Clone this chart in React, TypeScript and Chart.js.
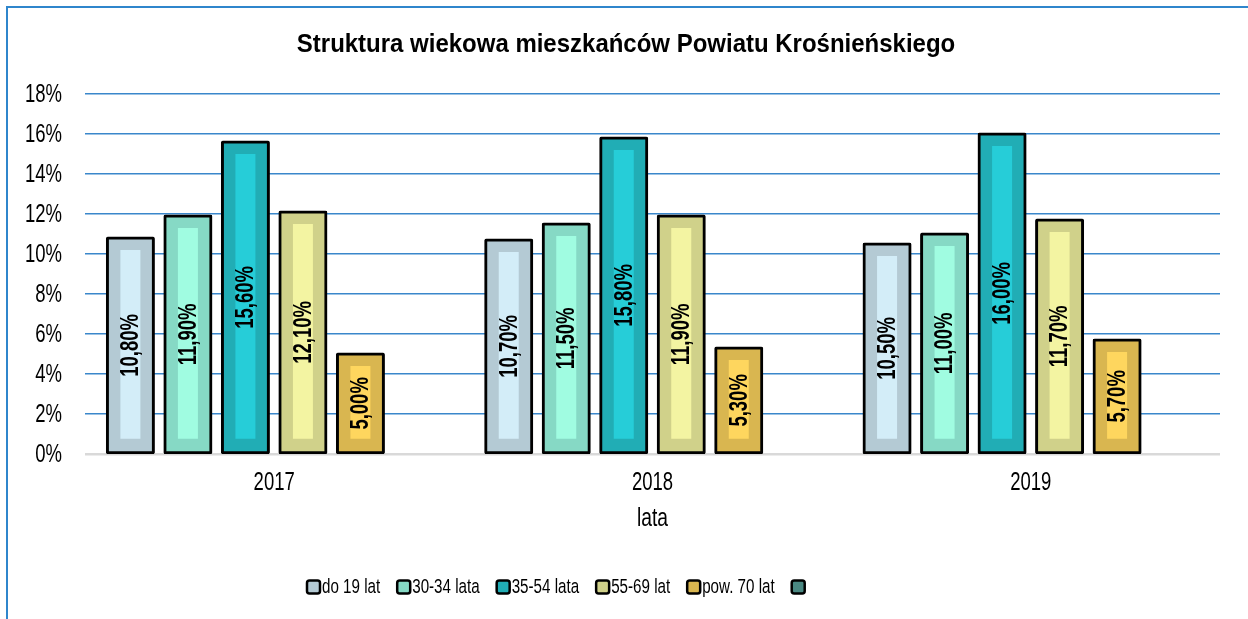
import React, { useEffect, useRef } from "react";
import { Chart, registerables } from "chart.js";

Chart.register(...registerables);

const categories = ["2017", "2018", "2019"];
const seriesLabels = ["do 19 lat", "30-34 lata", "35-54 lata", "55-69 lat", "pow. 70 lat", ""];
const do19 = [10.8, 10.7, 10.5];
const lata3034 = [11.9, 11.5, 11.0];
const lata3554 = [15.6, 15.8, 16.0];
const lat5569 = [12.1, 11.9, 11.7];
const pow70 = [5.0, 5.3, 5.7];
const empty = [null, null, null];
const outerColors = ["#B4CAD4", "#86D9C5", "#21ADB5", "#D0D18A", "#D9B650", "#4A8882"];
const innerColors = ["#D3EDF8", "#A0FCE1", "#26CDD8", "#F3F4A2", "#FED65E", "#5FA09A"];
const yTicks = [0, 2, 4, 6, 8, 10, 12, 14, 16, 18];
const chartTitle = "Struktura wiekowa mieszkańców Powiatu Krośnieńskiego";
const xAxisTitle = "lata";

const FONT = "'Liberation Sans', Arial, sans-serif";
const SX = 0.74;

function drawText(
  ctx: CanvasRenderingContext2D,
  text: string,
  x: number,
  y: number,
  font: string,
  sx: number,
  align: CanvasTextAlign,
  rot = 0
) {
  ctx.save();
  ctx.translate(x, y);
  if (rot) ctx.rotate(rot);
  ctx.scale(sx, 1);
  ctx.font = font;
  ctx.fillStyle = "#000000";
  ctx.textAlign = align;
  ctx.textBaseline = "middle";
  ctx.fillText(text, 0, 0);
  ctx.restore();
}

const decorPlugin = {
  id: "decor",
  beforeDraw(chart: any) {
    const ctx = chart.ctx;
    ctx.save();
    ctx.fillStyle = "#FFFFFF";
    ctx.fillRect(0, 0, chart.width, chart.height);
    ctx.strokeStyle = "#2F86CC";
    ctx.lineWidth = 2;
    ctx.beginPath();
    ctx.moveTo(7, chart.height);
    ctx.lineTo(7, 7);
    ctx.lineTo(chart.width, 7);
    ctx.stroke();
    ctx.restore();
    drawText(ctx, chartTitle, 626, 45, `bold 26.5px ${FONT}`, 0.905, "center");
  },
  afterDatasetsDraw(chart: any) {
    const ctx = chart.ctx;
    chart.data.datasets.forEach((ds: any, di: number) => {
      const meta = chart.getDatasetMeta(di);
      meta.data.forEach((bar: any, i: number) => {
        const v = ds.data[i];
        if (v === null || v === undefined) return;
        const { x, y, base, width } = bar.getProps(["x", "y", "base", "width"], true);
        const left = x - width / 2 + 13;
        const w = width - 26;
        const top = y + 12;
        const bottom = base - 14;
        if (bottom > top) {
          ctx.save();
          ctx.fillStyle = innerColors[di];
          ctx.fillRect(left, top, w, bottom - top);
          ctx.restore();
        }
        const txt = v.toFixed(2).replace(".", ",") + "%";
        drawText(ctx, txt, x + 1, (y + base) / 2, `bold 25px ${FONT}`, SX, "center", -Math.PI / 2);
      });
    });
  },
  afterDraw(chart: any) {
    const ctx = chart.ctx;
    const xs = chart.scales.x;
    const ys = chart.scales.y;
    yTicks.forEach((v) => {
      drawText(ctx, `${v}%`, 62, ys.getPixelForValue(v) + 1, `25px ${FONT}`, SX, "right");
    });
    categories.forEach((c, i) => {
      drawText(ctx, c, xs.getPixelForValue(i), 483, `25px ${FONT}`, SX, "center");
    });
    drawText(ctx, xAxisTitle, (chart.chartArea.left + chart.chartArea.right) / 2, 519, `25px ${FONT}`, 0.77, "center");
    ctx.save();
    let x = 307;
    const cy = 587;
    const lfont = `20.5px ${FONT}`;
    seriesLabels.forEach((lab, i) => {
      const s = 13;
      ctx.beginPath();
      const r = 2.5;
      const bx = x, by = cy - s / 2;
      ctx.moveTo(bx + r, by);
      ctx.arcTo(bx + s, by, bx + s, by + s, r);
      ctx.arcTo(bx + s, by + s, bx, by + s, r);
      ctx.arcTo(bx, by + s, bx, by, r);
      ctx.arcTo(bx, by, bx + s, by, r);
      ctx.closePath();
      ctx.fillStyle = outerColors[i];
      ctx.fill();
      ctx.lineWidth = 2.5;
      ctx.strokeStyle = "#000000";
      ctx.stroke();
      drawText(ctx, lab, x + 15, cy, lfont, SX, "left");
      ctx.font = lfont;
      const tw = ctx.measureText(lab).width * SX;
      x = x + 15 + tw + 17;
    });
    ctx.restore();
  },
};

export default function App() {
  const ref = useRef<HTMLCanvasElement | null>(null);
  useEffect(() => {
    if (!ref.current) return;
    const seriesData = [do19, lata3034, lata3554, lat5569, pow70, empty];
    const chart = new Chart(ref.current, {
      type: "bar",
      data: {
        labels: categories,
        datasets: seriesData.map((d, i) => ({
          label: seriesLabels[i],
          data: d as any,
          backgroundColor: outerColors[i],
          borderColor: "#000000",
          borderWidth: 3,
          borderRadius: 2,
          borderSkipped: false,
          inflateAmount: 1.5,
          categoryPercentage: 0.912,
          barPercentage: 0.8,
        })),
      },
      options: {
        responsive: false,
        animation: false,
        layout: { padding: { left: 0, right: 28, top: 94, bottom: 0 } },
        plugins: {
          legend: { display: false },
          title: { display: false },
          tooltip: { enabled: false },
        },
        scales: {
          x: {
            afterFit(scale: any) {
              scale.height = 165;
            },
            grid: { display: false, drawTicks: false },
            border: { display: false },
            ticks: { display: false },
          },
          y: {
            min: 0,
            max: 18,
            afterFit(scale: any) {
              scale.width = 85;
            },
            afterBuildTicks(scale: any) {
              scale.ticks = yTicks.map((v) => ({ value: v }));
            },
            grid: {
              drawTicks: false,
              color: (c: any) => (c.tick && c.tick.value === 0 ? "#D9D9D9" : "#3A87CB"),
              lineWidth: (c: any) => (c.tick && c.tick.value === 0 ? 2.5 : 1.5),
            },
            border: { display: false },
            ticks: { display: false },
          },
        },
      },
      plugins: [decorPlugin],
    });
    return () => chart.destroy();
  }, []);
  return (
    <div style={{ position: "fixed", left: 0, top: 0, width: 1248, height: 619 }}>
      <canvas ref={ref} width={1248} height={619} style={{ display: "block" }} />
    </div>
  );
}
